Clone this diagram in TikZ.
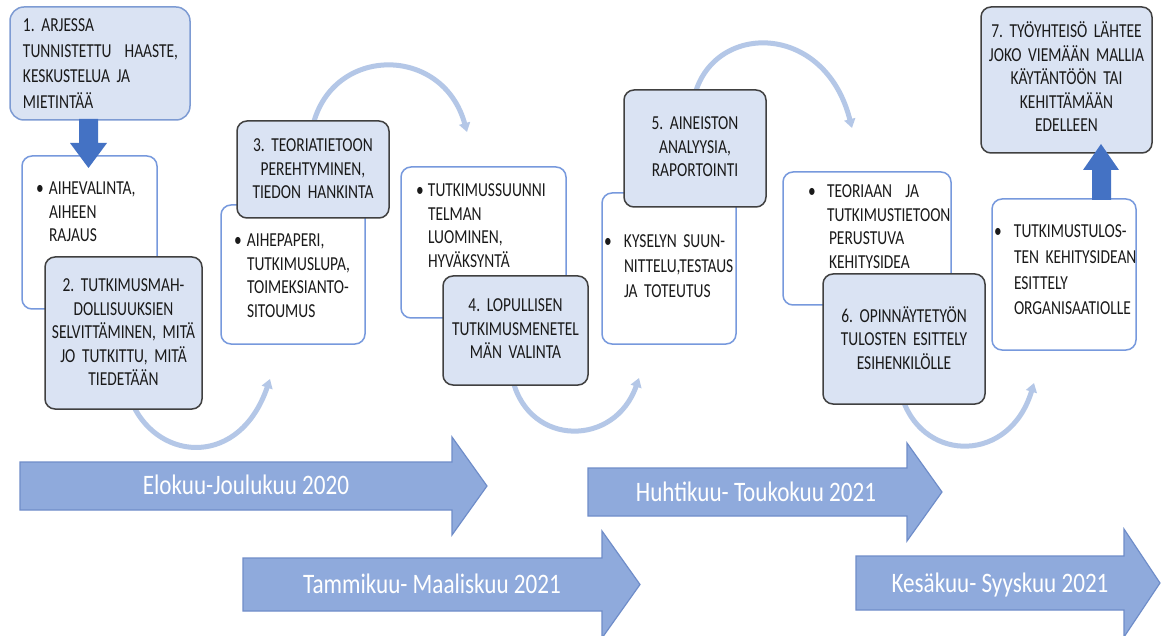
\documentclass[tikz,border=0pt]{standalone}
\usepackage{fontspec}
\setmainfont{Carlito}[FakeStretch=0.78]
\newfontfamily\tlfam{Carlito}[FakeStretch=0.82]
\usetikzlibrary{arrows.meta,calc,backgrounds}
\definecolor{boxfill}{HTML}{DAE3F3}
\definecolor{darkline}{HTML}{404040}
\definecolor{firstline}{HTML}{7D9BD3}
\definecolor{wline}{HTML}{7799DD}
\definecolor{blockblue}{HTML}{4472C4}
\definecolor{tlfill}{HTML}{8FAADC}
\definecolor{tlline}{HTML}{6F8DC9}
\definecolor{arccol}{HTML}{B4C7E7}
\definecolor{txtcol}{HTML}{1A1A1A}
\newcommand\bxfont{\fontsize{9.9pt}{11.75pt}\selectfont\frenchspacing}
\newcommand\tlfont{\tlfam\fontsize{14.1pt}{16pt}\selectfont}
\newcommand\bul[1]{\llap{\textbullet\hspace{#1}}}
\begin{document}
\begin{tikzpicture}[x=0.5pt,y=-0.5pt,
  darkbox/.style={rounded corners=5pt, fill=boxfill, draw=darkline, line width=0.75pt, inner sep=0pt, outer sep=0pt},
  firstbox/.style={darkbox, draw=firstline, rounded corners=7pt},
  whitebox/.style={darkbox, fill=white, draw=wline},
  btxt/.style={inner sep=0pt, outer sep=0pt, text=txtcol, font=\bxfont, anchor=base},
  ltxt/.style={btxt, anchor=base west, align=left},
  ctxt/.style={btxt, align=center},
  tltxt/.style={inner sep=0pt, text=white, font=\tlfont, anchor=base},
  tlarrow/.style={fill=tlfill, draw=tlline, line width=0.6pt, line join=miter},
  blockarrow/.style={fill=blockblue, draw=none},
  arcarrow/.style={draw=arccol, line width=2.5pt, -{Triangle[length=4.5pt,width=5.5pt]}},
]
\useasboundingbox (0,0) rectangle (1162,636);

% step 1
\node[firstbox, minimum width=90pt, minimum height=56.5pt] (B1) at (100,63.5) {};
\node[ltxt, text width=85pt, font=\fontsize{9.9pt}{12.75pt}\selectfont\frenchspacing] (B1t) at (23,32)
  {1. ARJESSA\\TUNNISTETTU\ \ HAASTE,\\KESKUSTELUA JA\\MIETINT\"A\"A};

\node[whitebox, minimum width=67.5pt, minimum height=76.5pt] (W1) at (89.5,232.5) {};
\node[ltxt, text width=55pt] (W1t) at (49,195) {\bul{2.6pt}AIHEVALINTA,\\AIHEEN\\RAJAUS};
\fill[blockarrow] (79,119) -- (98,119) -- (98,143) -- (107,143) -- (88.5,168) -- (70,143) -- (79,143) -- cycle;

% step 2
\node[darkbox, minimum width=78.5pt, minimum height=76pt] (B2) at (123.5,333) {};
\node[ctxt, text width=76pt] (B2t) at (123.5,292)
  {2. TUTKIMUSMAH-\\DOLLISUUKSIEN\\SELVITT\"AMINEN, MIT\"A\\JO TUTKITTU, MIT\"A\\TIEDET\"A\"AN};

% step 3
\node[whitebox, minimum width=72pt, minimum height=69.5pt] (W3) at (293,274.5) {};
\node[ltxt, text width=58pt] (W3t) at (247,247) {\bul{2.6pt}AIHEPAPERI,\\TUTKIMUSLUPA,\\TOIMEKSIANTO-\\SITOUMUS};
\node[darkbox, minimum width=76pt, minimum height=48.5pt] (B3) at (313,169.5) {};
\node[ctxt, text width=72pt] (B3t) at (313,152) {3. TEORIATIETOON\\PEREHTYMINEN,\\TIEDON HANKINTA};

% step 4
\node[whitebox, minimum width=82.5pt, minimum height=75.5pt] (W4) at (483.5,242.5) {};
\node[ltxt, text width=65pt] (W4t) at (428,197) {\bul{2.1pt}TUTKIMUSSUUNNI\\TELMAN\\LUOMINEN,\\HYV\"AKSYNT\"A};
\node[darkbox, minimum width=72.5pt, minimum height=54.5pt] (B4) at (515.5,330.5) {};
\node[ctxt, text width=70pt] (B4t) at (515.5,312) {4. LOPULLISEN\\TUTKIMUSMENETEL\\M\"AN VALINTA};

% step 5
\node[whitebox, minimum width=67pt, minimum height=75.5pt] (W5) at (669,268.5) {};
\node[ltxt, text width=60pt, font=\fontsize{9.9pt}{12.5pt}\selectfont\frenchspacing] (W5t) at (624,248)
  {\bul{6.1pt}KYSELYN SUUN-\\NITTELU,TESTAUS\\JA TOTEUTUS};
\node[darkbox, minimum width=71pt, minimum height=58.5pt] (B5) at (695,148.5) {};
\node[ctxt, text width=68pt] (B5t) at (695,130) {5. AINEISTON\\ANALYYSIA,\\RAPORTOINTI};

% step 6
\node[whitebox, minimum width=84pt, minimum height=66.5pt] (W6) at (867,238.5) {};
\node[ltxt, text width=62pt] (W6t) at (827,198)
  {\bul{5.6pt}TEORIAAN\ \ JA\\TUTKIMUSTIETOON\\\hspace*{1pt}PERUSTUVA\\\hspace*{1pt}KEHITYSIDEA};
\node[darkbox, minimum width=81pt, minimum height=65pt] (B6) at (904,339) {};
\node[ctxt, text width=78pt] (B6t) at (904,322) {6. OPINN\"AYTETY\"ON\\TULOSTEN ESITTELY\\ESIHENKIL\"OLLE};

% step 7
\node[whitebox, minimum width=72pt, minimum height=75.5pt] (W7) at (1064,274.5) {};
\node[ltxt, text width=64pt, font=\fontsize{9.9pt}{12.8pt}\selectfont\frenchspacing] (W7t) at (1014,238)
  {\bul{6.1pt}TUTKIMUSTULOS-\\TEN KEHITYSIDEAN\\ESITTELY\\ORGANISAATIOLLE};
\node[darkbox, minimum width=85.5pt, minimum height=73pt] (B7) at (1066.5,80) {};
\node[ctxt, text width=84pt] (B7t) at (1066.5,38)
  {7. TY\"OYHTEIS\"O L\"AHTEE\\JOKO VIEM\"A\"AN MALLIA\\K\"AYT\"ANT\"O\"ON TAI\\KEHITT\"AM\"A\"AN\\EDELLEEN};
\fill[blockarrow] (1092,200) -- (1111,200) -- (1111,170) -- (1119,170) -- (1101,144) -- (1083,170) -- (1092,170) -- cycle;

% curved connectors
\begin{scope}[on background layer]
  \fill[white] (0,0) rectangle (1162,636);
  \coordinate (a1) at (270,379);
  \coordinate (a2) at (467,132);
  \coordinate (a3) at (639,378);
  \coordinate (a4) at (852,128);
  \coordinate (a5) at (1034,383);
  \draw[arcarrow] ($(B2.south)+(9.5,-4)$) .. controls (160,462) and (240,467) .. (a1);
  \draw[arcarrow] ($(B3.north)+(0,4)$) .. controls (333,45) and (443,45) .. (a2);
  \draw[arcarrow] ($(B4.south)+(-2.5,-4)$) .. controls (530,447) and (615,447) .. (a3);
  \draw[arcarrow] ($(B5.north)+(0,4)$) .. controls (715,22) and (825,22) .. (a4);
  \draw[arcarrow] ($(B6.south)+(-1,-4)$) .. controls (925,463) and (1010,463) .. (a5);
\end{scope}

% timeline arrows
\path[tlarrow] (20,462) -- (452,462) -- (452,437) -- (487,486) -- (452,535) -- (452,510) -- (20,510) -- cycle;
\node[tltxt] (T1) at (246,494) {Elokuu-Joulukuu 2020};
\path[tlarrow] (588,468) -- (907,468) -- (907,443) -- (942,492) -- (907,541) -- (907,516) -- (588,516) -- cycle;
\node[tltxt] (T2) at (756,501) {Huhtikuu- Toukokuu 2021};
\path[tlarrow] (243,558) -- (602,558) -- (602,531) -- (640,584.5) -- (602,638) -- (602,611) -- (243,611) -- cycle;
\node[tltxt] (T3) at (432,593) {Tammikuu- Maaliskuu 2021};
\path[tlarrow] (856,556) -- (1124,556) -- (1124,529) -- (1160,583) -- (1124,637) -- (1124,610) -- (856,610) -- cycle;
\node[tltxt] (T4) at (1000,592) {Kes\"akuu- Syyskuu 2021};
\end{tikzpicture}
\end{document}
